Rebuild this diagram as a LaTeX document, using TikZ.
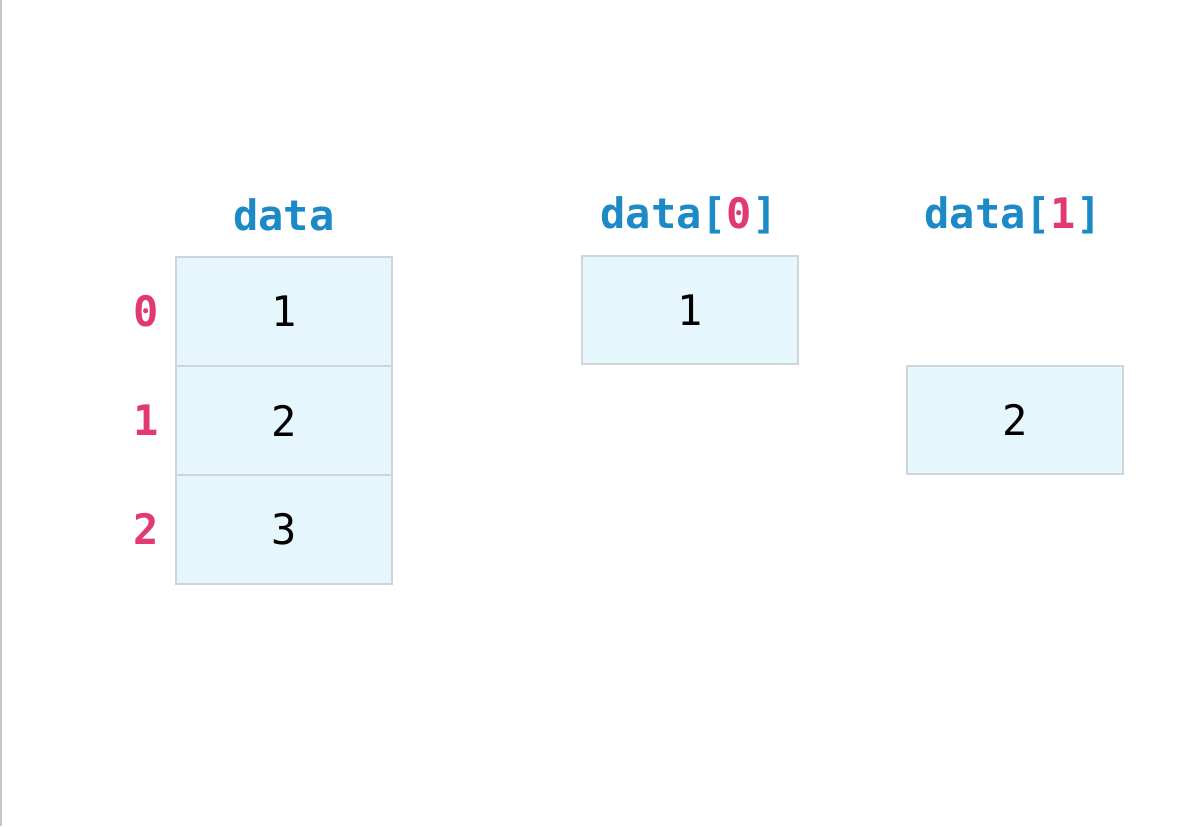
\documentclass[tikz,border=0pt]{standalone}
\usepackage{fontspec}
\setmonofont{DejaVu Sans Mono}
\usetikzlibrary{positioning}
\definecolor{cellfill}{HTML}{E6F6FD}
\definecolor{cellline}{HTML}{CED6DA}
\definecolor{namecol}{HTML}{1B8AC6}
\definecolor{idxcol}{HTML}{E03A70}
\tikzset{
  cell/.style={draw=cellline, fill=cellfill, line width=1pt, outer sep=0pt,
    minimum width=108pt, minimum height=54.5pt, inner sep=0pt,
    font=\ttfamily\fontsize{21}{21}\selectfont},
  varname/.style={font=\ttfamily\bfseries\fontsize{21}{21}\selectfont, text=namecol},
  idx/.style={font=\ttfamily\bfseries\fontsize{21}{21}\selectfont, text=idxcol}
}
\begin{document}
\begin{tikzpicture}[x=0.5pt, y=-0.5pt]
\useasboundingbox (0,0) rectangle (1198,826);
\draw[line width=1pt, black!22] (1,0) -- (1,826);
% the list
\node[cell] (d0) at (284,311.5) {1};
\node[cell, below=0pt of d0] (d1) {2};
\node[cell, below=0pt of d1] (d2) {3};
\node[varname] (dname) at (284,215) {data};
\node[idx] (i0) at (146,311.5) {0};
\node[idx] (i1) at (146,420) {1};
\node[idx] (i2) at (146,529) {2};
% the elements
\node[cell, minimum height=54pt] (e0) at (690,310) {1};
\node[varname] (e0name) at (689,215) {data[\textcolor{idxcol}{0}]};
\node[cell, minimum height=54pt] (e1) at (1015,419.5) {2};
\node[varname] (e1name) at (1013,215) {data[\textcolor{idxcol}{1}]};
\end{tikzpicture}
\end{document}
